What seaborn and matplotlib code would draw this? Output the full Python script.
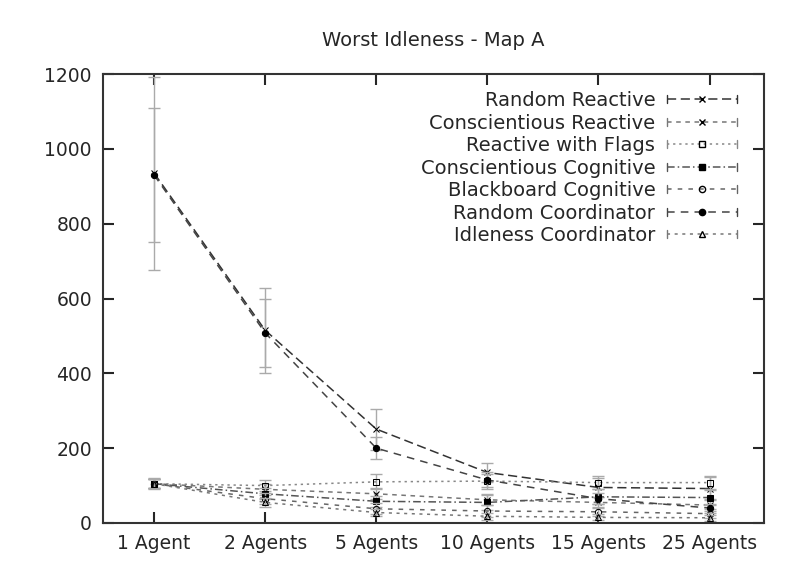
import numpy as np
import pandas as pd
import matplotlib
matplotlib.use("Agg")
import matplotlib.pyplot as plt
import seaborn as sns
from matplotlib.legend_handler import HandlerLine2D
from matplotlib.lines import Line2D

# categories on the x axis
agents = ["1 Agent", "2 Agents", "5 Agents", "10 Agents", "15 Agents", "25 Agents"]

# worst idleness per strategy (mean) and error bar half-width
random_reactive = [935, 515, 251, 135, 95, 92]
random_reactive_err = [258, 113, 55, 25, 25, 30]
conscientious_reactive = [105, 90, 78, 62, 55, 48]
conscientious_reactive_err = [12, 15, 15, 15, 15, 15]
reactive_flags = [105, 100, 110, 112, 108, 108]
reactive_flags_err = [15, 15, 20, 20, 18, 18]
conscientious_cognitive = [105, 78, 58, 55, 70, 68]
conscientious_cognitive_err = [12, 15, 15, 20, 20, 20]
blackboard_cognitive = [105, 65, 38, 32, 30, 25]
blackboard_cognitive_err = [12, 15, 15, 15, 12, 12]
random_coordinator = [930, 508, 200, 115, 65, 40]
random_coordinator_err = [178, 90, 30, 20, 15, 12]
idleness_coordinator = [105, 55, 28, 18, 15, 14]
idleness_coordinator_err = [12, 12, 10, 10, 8, 8]

names = ["Random Reactive", "Conscientious Reactive", "Reactive with Flags",
         "Conscientious Cognitive", "Blackboard Cognitive", "Random Coordinator",
         "Idleness Coordinator"]
values = [random_reactive, conscientious_reactive, reactive_flags,
          conscientious_cognitive, blackboard_cognitive, random_coordinator,
          idleness_coordinator]
errors = [random_reactive_err, conscientious_reactive_err, reactive_flags_err,
          conscientious_cognitive_err, blackboard_cognitive_err, random_coordinator_err,
          idleness_coordinator_err]

# gnuplot-like monochrome styles
styles = {
    "Random Reactive": dict(color="#333333", dashes=(6, 3), marker="x", mfc="none"),
    "Conscientious Reactive": dict(color="#777777", dashes=(3, 3), marker="x", mfc="none"),
    "Reactive with Flags": dict(color="#888888", dashes=(1.5, 2.5), marker="s", mfc="none"),
    "Conscientious Cognitive": dict(color="#555555", dashes=(5, 2, 1, 2), marker="s", mfc="black"),
    "Blackboard Cognitive": dict(color="#666666", dashes=(3, 4), marker="o", mfc="none"),
    "Random Coordinator": dict(color="#444444", dashes=(5, 4), marker="o", mfc="black"),
    "Idleness Coordinator": dict(color="#777777", dashes=(2, 3), marker="^", mfc="none"),
}

df = pd.DataFrame({
    "agents": agents * len(names),
    "idleness": np.concatenate(values),
    "err": np.concatenate(errors),
    "strategy": np.repeat(names, len(agents)),
})

sns.set_style("ticks")
plt.rcParams["font.family"] = ["DejaVu Sans"]

fig = plt.figure(figsize=(7.97, 5.69), dpi=100)
ax = fig.add_axes([103 / 797, 1 - 523 / 569, (764 - 103) / 797, (523 - 74) / 569])

handles = []
for name in names:
    st = styles[name]
    sub = df[df["strategy"] == name]
    ax.errorbar(sub["agents"], sub["idleness"], yerr=sub["err"], fmt="none",
                ecolor="#aaaaaa", elinewidth=1, capsize=4, capthick=1)
    sns.lineplot(data=sub, x="agents", y="idleness", ax=ax, color=st["color"],
                 linewidth=1.1, marker=st["marker"], markersize=4.5,
                 markerfacecolor=st["mfc"], markeredgecolor="black", dashes=False,
                 linestyle=(0, st["dashes"]), legend=False, sort=False)
    handles.append(Line2D([], [], color=st["color"], lw=1.1, linestyle=(0, st["dashes"]),
                          marker=st["marker"], markersize=4.5, markerfacecolor=st["mfc"],
                          markeredgecolor="black"))


class CapHandler(HandlerLine2D):
    def create_artists(self, legend, orig_handle, xdescent, ydescent, width, height,
                       fontsize, trans):
        arts = super().create_artists(legend, orig_handle, xdescent, ydescent, width,
                                      height, fontsize, trans)
        y = height / 2 - ydescent
        h = height * 0.3
        for x in (-xdescent, -xdescent + width):
            arts.append(Line2D([x, x], [y - h, y + h], color=orig_handle.get_color(),
                               lw=1, transform=trans))
        return arts


ax.set_xlim(-0.46, 5.49)
ax.set_ylim(0, 1200)
ax.set_yticks(range(0, 1201, 200))
ax.set_xlabel("")
ax.set_ylabel("")
ax.set_title("Worst Idleness - Map A", fontsize=14, pad=20)
ax.tick_params(direction="in", length=8, width=1.5, labelsize=13.5, top=True, right=True,
               pad=8)
for s in ax.spines.values():
    s.set_linewidth(1.5)
    s.set_color("#333333")

ax.legend(handles, names, handler_map={Line2D: CapHandler(numpoints=1)},
          loc="upper right", bbox_to_anchor=(737 / 797, 1 - 91 / 569),
          bbox_transform=fig.transFigure, frameon=False, markerfirst=False,
          fontsize=14, handlelength=3.6, handletextpad=0.6, labelspacing=0.18,
          borderpad=0, borderaxespad=0)

fig.savefig("out.png", dpi=100)
